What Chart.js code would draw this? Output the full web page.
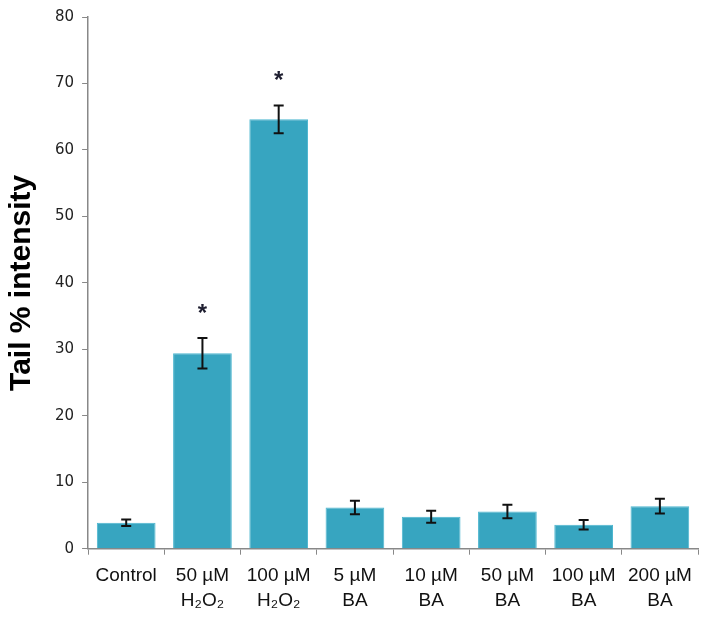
<!DOCTYPE html>
<html>
<head>
<meta charset="utf-8">
<script src="https://cdn.jsdelivr.net/npm/chart.js@4"></script>
<style>
  html, body { margin: 0; padding: 0; background: #fff; overflow: hidden; }
  #wrap { width: 708px; height: 618px; position: relative; }
</style>
</head>
<body>
<div id="wrap"><canvas id="chart"></canvas></div>
<script>
const categories = [
  "Control",
  ["50 µM", "H₂O₂"],
  ["100 µM", "H₂O₂"],
  ["5 µM", "BA"],
  ["10 µM", "BA"],
  ["50 µM", "BA"],
  ["100 µM", "BA"],
  ["200 µM", "BA"],
]
const tailIntensity = [3.9, 29.4, 64.6, 6.2, 4.8, 5.6, 3.6, 6.4]
const errors = [0.5, 2.3, 2.1, 1.0, 0.9, 1.0, 0.7, 1.1]
const significant = [false, true, true, false, false, false, false, false]
const yTicks = [0, 10, 20, 30, 40, 50, 60, 70, 80]

// error bars + asterisks
const errorBarPlugin = {
  id: "errorBars",
  afterDatasetsDraw(chart) {
    const ctx = chart.ctx
    const y = chart.scales.y
    const meta = chart.getDatasetMeta(0)
    ctx.save()
    ctx.strokeStyle = "#111"
    ctx.lineWidth = 2
    meta.data.forEach((bar, i) => {
      const v = tailIntensity[i]
      const e = errors[i]
      const top = y.getPixelForValue(v + e)
      const bot = y.getPixelForValue(v - e)
      const x = bar.x
      ctx.beginPath()
      ctx.moveTo(x, top)
      ctx.lineTo(x, bot)
      ctx.moveTo(x - 5, top)
      ctx.lineTo(x + 5, top)
      ctx.moveTo(x - 5, bot)
      ctx.lineTo(x + 5, bot)
      ctx.stroke()
      if (significant[i]) {
        ctx.fillStyle = "#1e1e30"
        ctx.font = "bold 24px 'Liberation Sans', Arial, sans-serif"
        ctx.textAlign = "center"
        ctx.textBaseline = "middle"
        ctx.fillText("*", x, top - 24)
      }
    })
    ctx.restore()
  },
}

new Chart(document.getElementById("chart"), {
  type: "bar",
  data: {
    labels: categories,
    datasets: [
      {
        data: tailIntensity,
        backgroundColor: "#37a5c0",
        borderColor: "#4cb6cf",
        borderWidth: 1,
        categoryPercentage: 1,
        barPercentage: 0.77,
      },
    ],
  },
  options: {
    responsive: true,
    maintainAspectRatio: false,
    animation: false,
    layout: { padding: { top: 7, right: 10, left: 4, bottom: -4 } },
    plugins: {
      legend: { display: false },
      tooltip: { enabled: false },
    },
    scales: {
      x: {
        grid: {
          display: true,
          drawOnChartArea: false,
          drawTicks: true,
          tickLength: 6,
          color: "#888",
          offset: true,
        },
        border: { color: "#888", width: 1.5 },
        ticks: {
          color: "#111",
          font: { family: "'Liberation Sans', Arial, sans-serif", size: 19, lineHeight: 1.35 },
          maxRotation: 0,
          autoSkip: false,
          padding: 8,
        },
      },
      y: {
        min: 0,
        max: 80,
        afterBuildTicks(axis) {
          axis.ticks = yTicks.map((v) => ({ value: v }))
        },
        grid: {
          display: true,
          drawOnChartArea: false,
          drawTicks: true,
          tickLength: 6,
          color: "#888",
        },
        border: { color: "#888", width: 1.5 },
        ticks: {
          color: "#222",
          font: { family: "'DejaVu Sans', Verdana, sans-serif", size: 15 },
          padding: 8,
        },
        title: {
          display: true,
          text: "Tail % intensity",
          color: "#000",
          font: { family: "'Liberation Sans', Arial, sans-serif", size: 30, weight: "bold" },
          padding: { top: 0, bottom: 7 },
        },
      },
    },
  },
  plugins: [errorBarPlugin],
})
</script>
</body>
</html>
